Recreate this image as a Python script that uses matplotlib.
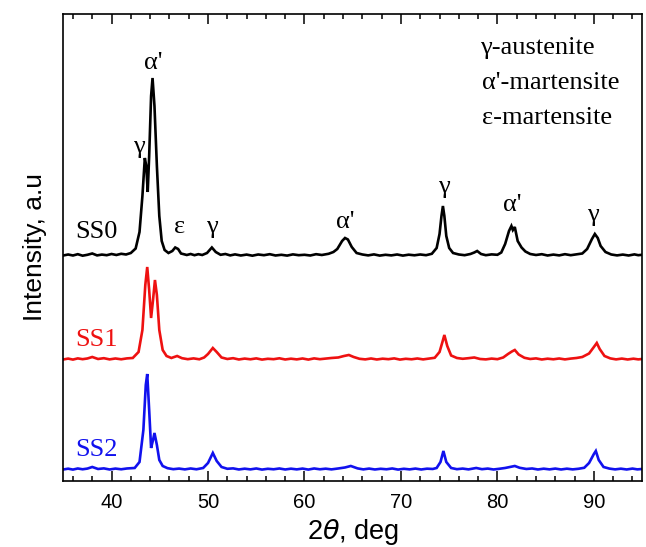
import matplotlib
matplotlib.use("Agg")
import matplotlib.pyplot as plt
from matplotlib.ticker import MultipleLocator

# ---- data (2theta in deg, intensity in a.u.) ----
ss0_x = [35.0, 35.5, 36.0, 36.5, 37.0, 37.5, 38.0, 38.5, 39.0, 39.5, 40.0, 40.5, 41.0, 41.5, 42.0,
         42.5, 42.9, 43.2, 43.45, 43.6, 43.75, 43.9, 44.1, 44.25, 44.45, 44.7, 44.95, 45.2, 45.5,
         45.9, 46.3, 46.6, 46.9, 47.2, 47.8, 48.2, 48.6, 49.0, 49.4, 49.9, 50.4, 50.8, 51.3, 51.8,
         52.3, 52.8, 53.4, 54.0, 54.6, 55.2, 55.8, 56.4, 57.0, 57.6, 58.2, 58.8, 59.4, 60.0, 60.6,
         61.2, 61.8, 62.5, 63.0, 63.4, 63.9, 64.2, 64.5, 64.9, 65.4, 66.0, 66.6, 67.2, 67.8, 68.4,
         69.0, 69.6, 70.2, 70.8, 71.4, 72.0, 72.6, 73.2, 73.7, 74.0, 74.2, 74.35, 74.5, 74.7, 75.0,
         75.4, 76.0, 76.6, 77.2, 77.6, 77.9, 78.3, 78.8, 79.4, 80.0, 80.4, 80.8, 81.2, 81.45, 81.6,
         81.8, 82.1, 82.5, 82.9, 83.4, 84.0, 84.6, 85.2, 85.8, 86.4, 87.0, 87.6, 88.2, 88.8, 89.3,
         89.8, 90.1, 90.4, 90.7, 91.2, 91.8, 92.4, 93.0, 93.6, 94.2, 94.6, 95.0]
ss0_y = [0.5, 1.5, 0.5, 1.8, 0.3, 1.2, 2.5, 0.6, 1.4, 0.8, 2.0, 1.0, 2.2, 1.5, 3.0,
         7.5, 24, 60, 98, 90, 64, 100, 160, 178, 150, 90, 40, 15, 6,
         3.0, 5.0, 8.5, 7.0, 2.5, 1.0, 2.0, 0.8, 1.8, 1.0, 3.0, 8.5, 4.0, 1.2, 2.0,
         0.6, 1.6, 0.5, 1.4, 0.3, 1.5, 0.8, 1.8, 0.5, 1.2, 0.4, 1.6, 0.8, 1.2, 0.5,
         1.8, 1.0, 2.2, 4.0, 7.0, 15, 18, 16.5, 9.0, 3.0, 1.5, 0.6, 1.6, 0.4, 1.2,
         0.6, 1.5, 0.4, 1.3, 0.7, 1.5, 0.8, 2.2, 8.0, 22, 40, 50, 40, 20, 8.0,
         3.0, 1.5, 0.8, 2.0, 3.5, 5.0, 2.0, 0.8, 1.6, 1.2, 3.5, 12, 25, 30, 26,
         29, 15, 8.5, 4.5, 2.0, 1.0, 1.8, 0.5, 1.4, 0.6, 1.8, 0.8, 1.6, 2.5, 7.0,
         17, 22, 18, 10, 4.0, 1.5, 0.6, 1.4, 0.5, 1.6, 0.8, 1.2]

ss1_x = [35.0, 35.5, 36.0, 36.5, 37.0, 37.5, 38.0, 38.6, 39.2, 39.8, 40.4, 41.0, 41.6, 42.2,
         42.8, 43.2, 43.5, 43.7, 43.9, 44.1, 44.3, 44.5, 44.7, 44.95, 45.3, 45.7, 46.2, 46.8,
         47.3, 47.9, 48.5, 49.1, 49.6, 50.0, 50.5, 50.9, 51.4, 52.0, 52.6, 53.2, 53.8, 54.4,
         55.0, 55.6, 56.2, 56.8, 57.4, 58.0, 58.6, 59.2, 59.8, 60.4, 61.0, 61.6, 62.2, 62.8,
         63.5, 64.1, 64.6, 65.1, 65.7, 66.3, 66.9, 67.5, 68.1, 68.7, 69.3, 69.9, 70.5, 71.1,
         71.7, 72.3, 72.9, 73.5, 74.0, 74.3, 74.5, 74.8, 75.2, 75.8, 76.4, 77.0, 77.6, 78.2,
         78.8, 79.4, 80.0, 80.6, 81.1, 81.5, 81.8, 82.2, 82.8, 83.4, 84.0, 84.6, 85.2, 85.8,
         86.4, 87.0, 87.6, 88.2, 88.8, 89.5, 90.0, 90.3, 90.6, 91.1, 91.7, 92.3, 92.9, 93.5,
         94.1, 94.6, 95.0]
ss1_y = [0.5, 1.4, 0.4, 1.6, 0.8, 1.5, 3.0, 1.0, 1.8, 0.6, 1.5, 0.7, 1.6, 2.0,
         8.0, 30, 75, 93, 70, 42, 60, 80, 65, 30, 10, 4.0, 2.0, 4.0,
         1.8, 0.8, 1.6, 0.7, 2.5, 6.0, 12, 8.0, 2.5, 1.0, 1.8, 0.5, 1.4, 0.7,
         1.6, 0.4, 1.2, 0.8, 1.7, 0.5, 1.3, 0.6, 1.5, 0.4, 1.6, 0.8, 1.4, 2.0,
         2.5, 4.0, 5.0, 3.0, 1.2, 0.6, 1.5, 0.5, 1.3, 0.8, 1.6, 0.4, 1.2, 0.7,
         1.5, 0.6, 1.4, 2.2, 8.0, 18, 25, 14, 4.5, 2.0, 1.2, 1.8, 2.5, 1.0,
         0.6, 1.4, 0.8, 2.5, 6.0, 8.5, 10, 5.5, 2.2, 1.0, 1.6, 0.5, 1.3, 0.7,
         1.5, 0.6, 1.4, 2.0, 3.0, 6.5, 13, 17, 11, 4.0, 1.6, 0.6, 1.4, 0.5,
         1.3, 0.6, 1.0]

ss2_x = [35.0, 35.5, 36.0, 36.5, 37.0, 37.5, 38.0, 38.6, 39.2, 39.8, 40.4, 41.0, 41.6, 42.4,
         42.9, 43.3, 43.55, 43.7, 43.9, 44.1, 44.3, 44.45, 44.7, 44.95, 45.3, 45.8, 46.4, 47.0,
         47.6, 48.2, 48.8, 49.5, 50.0, 50.5, 50.9, 51.4, 52.0, 52.6, 53.2, 53.8, 54.4, 55.0,
         55.6, 56.2, 56.8, 57.4, 58.0, 58.6, 59.2, 59.8, 60.4, 61.0, 61.6, 62.2, 62.8, 63.5,
         64.2, 64.8, 65.5, 66.1, 66.7, 67.3, 67.9, 68.5, 69.1, 69.7, 70.3, 70.9, 71.5, 72.1,
         72.7, 73.3, 73.7, 74.1, 74.4, 74.7, 75.2, 75.8, 76.4, 77.0, 77.8, 78.4, 79.0, 79.6,
         80.2, 80.8, 81.3, 81.8, 82.3, 83.0, 83.6, 84.2, 84.8, 85.4, 86.0, 86.6, 87.2, 87.8,
         88.4, 89.0, 89.5, 90.0, 90.2, 90.5, 91.0, 91.6, 92.2, 92.8, 93.4, 94.0, 94.5, 95.0]
ss2_y = [0.5, 1.3, 0.4, 1.5, 0.7, 1.4, 3.0, 1.0, 1.6, 0.5, 1.4, 0.7, 1.5, 2.0,
         8.0, 40, 85, 96, 60, 22, 30, 37, 25, 10, 4.0, 1.8, 0.8, 1.4,
         0.6, 1.5, 0.7, 2.0, 7.0, 17, 9.0, 3.0, 1.2, 1.6, 0.5, 1.3, 0.6, 1.5,
         0.4, 1.2, 0.7, 1.5, 0.5, 1.3, 0.6, 1.4, 0.4, 1.5, 0.7, 1.3, 0.6, 1.5,
         2.5, 4.0, 1.6, 0.6, 1.4, 0.5, 1.2, 0.7, 1.5, 0.4, 1.2, 0.6, 1.4, 0.5,
         1.3, 1.0, 2.0, 8.0, 19, 8.0, 2.0, 0.8, 1.4, 0.6, 2.0, 0.8, 1.4, 0.5,
         1.2, 2.0, 3.0, 4.0, 2.2, 1.0, 1.5, 0.5, 1.3, 0.6, 1.4, 0.5, 1.3, 0.6,
         1.2, 2.2, 7.0, 16, 19, 10, 3.0, 1.4, 0.6, 1.3, 0.5, 1.4, 0.6, 1.0]

sample_names = ["SS0", "SS1", "SS2"]
sample_offsets = [225, 121, 11]
sample_colors = ["#000000", "#ee1111", "#1111ee"]

peak_labels = ["γ", "α'", "ε", "γ", "α'", "γ", "α'", "γ"]
peak_label_x = [42.8, 44.3, 47.1, 50.4, 64.2, 74.4, 81.5, 89.9]
peak_label_y = [334, 418, 254, 254, 259, 294, 276, 266]

phase_legend = ["γ-austenite", "α'-martensite", "ε-martensite"]

# ---- figure ----
fig = plt.figure(figsize=(6.46, 5.47), dpi=100)
ax = fig.add_axes([0.098, 0.1207, 0.896, 0.8537])

curves_x = [ss0_x, ss1_x, ss2_x]
curves_y = [ss0_y, ss1_y, ss2_y]
for xs, ys, off, col in zip(curves_x, curves_y, sample_offsets, sample_colors):
    ax.plot(xs, [off + v for v in ys], color=col, lw=1.9, solid_joinstyle="miter")

serif = "Liberation Serif"
name_y = [249, 141, 31]
for name, yy, col in zip(sample_names, name_y, sample_colors):
    ax.text(36.2, yy, name, color=col, fontsize=19, family=serif, ha="left", va="center")

for lab, lx, ly in zip(peak_labels, peak_label_x, peak_label_y):
    ax.text(lx, ly, lab, fontsize=19, family=serif, ha="center", va="center")

for i, lab in enumerate(phase_legend):
    ax.text(78.2 if i == 0 else 78.4, 433 - 35 * i, lab, fontsize=19, family=serif,
            ha="left", va="center")

ax.set_xlim(35, 95)
ax.set_ylim(0, 467)
ax.xaxis.set_major_locator(MultipleLocator(10))
ax.xaxis.set_minor_locator(MultipleLocator(2))
ax.tick_params(axis="x", which="both", direction="in", top=True, bottom=True,
               labelsize=14.5, width=1.1, pad=9)
ax.tick_params(axis="x", which="major", length=7)
ax.tick_params(axis="x", which="minor", length=3.5)
ax.set_yticks([])
for lbl in ax.get_xticklabels():
    lbl.set_family("Liberation Sans")
for s in ax.spines.values():
    s.set_linewidth(1.2)

ax.set_xlabel(r"2$\theta$, deg", fontsize=19.5, family="Liberation Sans", labelpad=3)
ax.set_ylabel("Intensity, a.u", fontsize=19, family="Liberation Sans", labelpad=12)

fig.savefig("out.png", dpi=100)
